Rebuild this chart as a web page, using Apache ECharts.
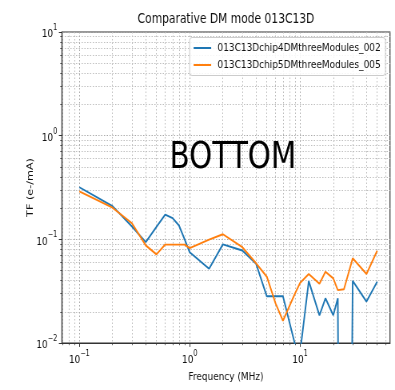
<!DOCTYPE html>
<html>
<head>
<meta charset="utf-8">
<script src="https://cdn.jsdelivr.net/npm/echarts@6/dist/echarts.min.js"></script>
<style>
  html, body { margin: 0; padding: 0; background: #fff; overflow: hidden; }
  #wrap { width: 395px; height: 390px; overflow: hidden; }
  /* the figure is laid out on a wider canvas and squeezed horizontally */
  #chart { width: 494px; height: 390px; transform: scaleX(0.7996); transform-origin: 0 0; }
</style>
</head>
<body>
<div id="wrap"><div id="chart"></div></div>
<script>
// Frequency sweep points (MHz)
const freqMHz = [0.1, 0.2, 0.3, 0.4, 0.5, 0.6, 0.7, 0.8, 0.9, 1, 1.5, 2, 3, 4, 5, 6, 7, 9, 10, 12, 15, 17, 20, 22, 25, 30, 40, 50];

// Transfer function (e-/mA) per module
const seriesNames = ['013C13Dchip4DMthreeModules_002', '013C13Dchip5DMthreeModules_005'];
const tfChip4 = [0.318, 0.209, 0.133, 0.094, 0.132, 0.173, 0.16, 0.136, 0.1, 0.075, 0.052, 0.0895, 0.078, 0.058, 0.0282, 0.0282, 0.0282, 0.0097, 0.008, 0.0396, 0.0185, 0.027, 0.0185, 0.027, 0, 0.0398, 0.0251, 0.039];
const tfChip5 = [0.29, 0.202, 0.143, 0.0875, 0.0716, 0.089, 0.089, 0.089, 0.089, 0.0824, 0.0995, 0.112, 0.084, 0.0587, 0.0436, 0.0241, 0.0164, 0.03, 0.038, 0.0463, 0.0372, 0.0487, 0.042, 0.0324, 0.033, 0.0656, 0.0463, 0.0776];

// Decade exponents that carry labels
const xDecades = [-1, 0, 1];
const yDecades = [-2, -1, 0, 1];

const titleText = 'Comparative DM mode 013C13D';
const xName = 'Frequency (MHz)';
const yName = 'TF (e-/mA)';
const overlayText = 'BOTTOM';

// Axis extents in log10 space
const X_MIN = -1.157, X_MAX = 1.815;
const Y_MIN = -2, Y_MAX = 1;

const FONT = 'DejaVu Sans';
const BLUE = '#1f77b4', ORANGE = '#ff7f0e';

// Non-positive readings are clipped to a tiny floor, as a log plot does
const FLOOR = 1e-12;
const toLog = (xs, ys) => xs.map((f, i) => [Math.log10(f), Math.log10(Math.max(ys[i], FLOOR))]);

// Minor tick positions 2..9 x 10^n within a range
function minorTicks(lo, hi) {
  const out = [];
  for (let n = Math.floor(lo) - 1; n <= Math.ceil(hi); n++) {
    for (let k = 2; k <= 9; k++) {
      const v = n + Math.log10(k);
      if (v > lo && v < hi) out.push(v);
    }
  }
  return out;
}

const powLabel = v => {
  const e = Math.round(v);
  return '{b|10}{s|' + (e < 0 ? '\u2212' + (-e) : String(e)) + '}';
};
const labelRich = {
  b: { fontFamily: FONT, fontSize: 11.2, color: '#111', lineHeight: 16, verticalAlign: 'bottom' },
  s: { fontFamily: FONT, fontSize: 8, color: '#111', lineHeight: 9, verticalAlign: 'top' }
};

const majorGrid = { show: true, lineStyle: { color: '#a8a8a8', type: [1.5, 2], width: 1 } };
const minorGrid = { show: true, lineStyle: { color: '#bdbdbd', type: [1.5, 2], width: 1 } };
const spine = { show: true, onZero: false, lineStyle: { color: '#333', width: 1.2 } };

const chart = echarts.init(document.getElementById('chart'), null, { renderer: 'canvas' });

chart.setOption({
  animation: false,
  backgroundColor: '#fff',
  title: {
    text: titleText,
    left: 282.6,
    textAlign: 'center',
    top: 13,
    padding: 0,
    textStyle: { fontFamily: FONT, fontSize: 13.4, fontWeight: 'normal', color: '#111' }
  },
  grid: {
    left: 77.5, right: 6.3, top: 32, bottom: 47,
    show: true, borderColor: '#333', borderWidth: 1.2, backgroundColor: 'transparent'
  },
  legend: {
    orient: 'vertical',
    right: 12, top: 37.5,
    icon: 'rect', itemWidth: 22, itemHeight: 2, itemGap: 6,
    padding: [5, 6, 5, 5],
    backgroundColor: 'rgba(255,255,255,0.85)',
    borderColor: '#cccccc', borderWidth: 1, borderRadius: 3,
    textStyle: { fontFamily: FONT, fontSize: 11.2, color: '#111', padding: [0, 0, 0, 3] },
    data: seriesNames
  },
  xAxis: [
    {
      type: 'value', min: X_MIN, max: X_MAX, position: 'bottom',
      name: xName, nameLocation: 'middle', nameGap: 29, nameMoveOverlap: false,
      nameTextStyle: { fontFamily: FONT, fontSize: 11.2, color: '#111' },
      axisLine: spine,
      axisTick: { show: true, inside: false, length: 3.9, customValues: xDecades, lineStyle: { color: '#333', width: 1 } },
      axisLabel: { show: true, margin: 7, customValues: xDecades, formatter: powLabel, rich: labelRich },
      splitLine: majorGrid
    },
    {
      type: 'value', min: X_MIN, max: X_MAX, position: 'bottom',
      axisLine: { show: false, onZero: false },
      axisTick: { show: true, inside: false, length: 2.2, customValues: minorTicks(X_MIN, X_MAX), lineStyle: { color: '#333', width: 0.8 } },
      axisLabel: { show: false },
      splitLine: minorGrid
    }
  ],
  yAxis: [
    {
      type: 'value', min: Y_MIN, max: Y_MAX, position: 'left',
      name: yName, nameLocation: 'middle', nameGap: 34, nameRotate: 90, nameMoveOverlap: false,
      nameTextStyle: { fontFamily: FONT, fontSize: 11.2, color: '#111' },
      axisLine: spine,
      axisTick: { show: true, inside: false, length: 3.9, customValues: yDecades, lineStyle: { color: '#333', width: 1 } },
      axisLabel: { show: true, margin: 6, customValues: yDecades, formatter: powLabel, rich: labelRich },
      splitLine: majorGrid
    },
    {
      type: 'value', min: Y_MIN, max: Y_MAX, position: 'left',
      axisLine: { show: false, onZero: false },
      axisTick: { show: true, inside: false, length: 2.2, customValues: minorTicks(Y_MIN, Y_MAX), lineStyle: { color: '#333', width: 0.8 } },
      axisLabel: { show: false },
      splitLine: minorGrid
    }
  ],
  graphic: [{
    type: 'text',
    left: 212, top: 140,
    style: { text: overlayText, fontFamily: FONT, fontSize: 36.8, fill: '#000' },
    z: 50
  }],
  series: [
    {
      name: seriesNames[0], type: 'line', xAxisIndex: 0, yAxisIndex: 0,
      data: toLog(freqMHz, tfChip4), showSymbol: false, symbol: 'none', clip: true,
      lineStyle: { color: BLUE, width: 1.9 }, itemStyle: { color: BLUE }, z: 3
    },
    {
      name: seriesNames[1], type: 'line', xAxisIndex: 0, yAxisIndex: 0,
      data: toLog(freqMHz, tfChip5), showSymbol: false, symbol: 'none', clip: true,
      lineStyle: { color: ORANGE, width: 1.9 }, itemStyle: { color: ORANGE }, z: 4
    }
  ]
});
</script>
</body>
</html>
